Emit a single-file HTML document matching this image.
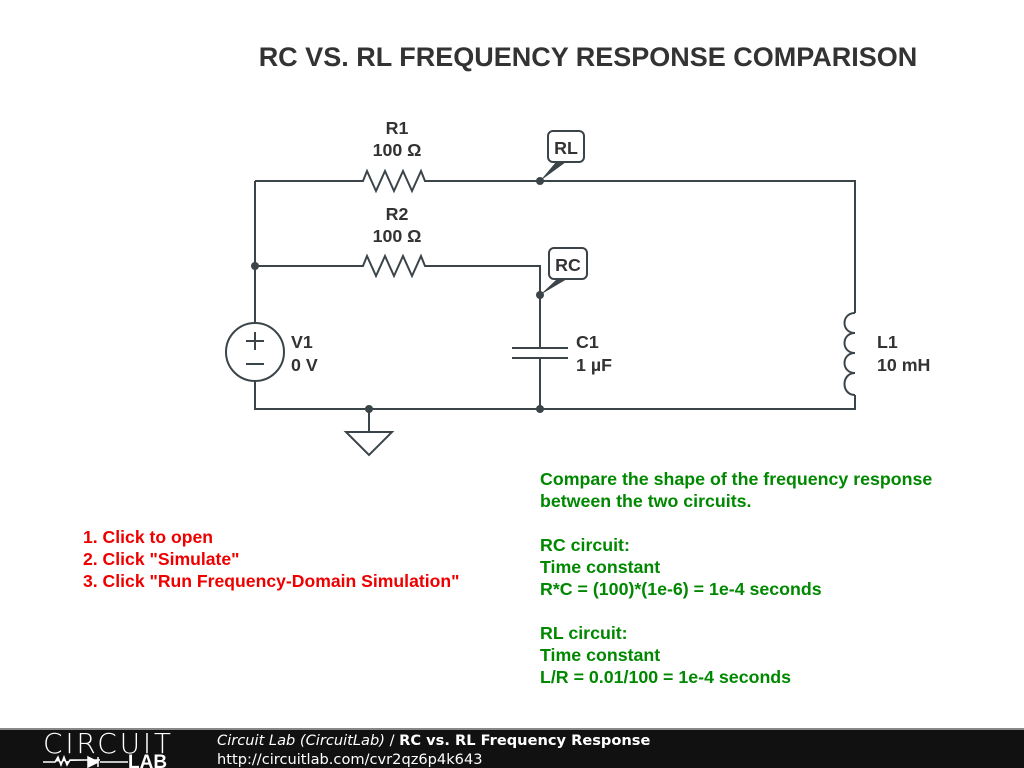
<!DOCTYPE html>
<html><head><style>
body{margin:0;width:1024px;height:768px;background:#fff;overflow:hidden;font-family:"Liberation Sans",sans-serif}
svg{position:absolute;left:0;top:0}
</style></head><body>
<svg width="1024" height="768" viewBox="0 0 1024 768">
<g stroke="#3b4449" stroke-width="2" fill="none">
<path d="M255 181H363l4-10 9 20 9-20 9 20 9-20 9 20 9-20 4 10H855V313"/>
<path d="M855 395V409H255V381M255 323V181"/>
<path d="M255 266H363l4-10 9 20 9-20 9 20 9-20 9 20 9-20 4 10H540V348M540 358V409"/>
<path d="M512 348H568M512 358H568"/>
<circle cx="255" cy="352" r="29"/>
<path d="M246 341H264M255 332V350M246 364H264"/>
<path d="M369 409V432M346 432H392L369 455Z"/>
<path d="M855 313c-14 0-14 20 0 20c-14 0-14 20 0 20c-14 0-14 20 0 20c-14 0-14 22 0 22"/>
<rect x="548" y="131" width="36" height="31" rx="5"/>
<rect x="549" y="248" width="38" height="31" rx="5"/>
</g>
<g fill="#3b4449">
<circle cx="540" cy="181" r="4"/><circle cx="255" cy="266" r="4"/><circle cx="540" cy="295" r="4"/><circle cx="540" cy="409" r="4"/><circle cx="369" cy="409" r="4"/>
<path d="M540 181L556 162H566Z"/><path d="M540 295L557 279H567Z"/>
</g>
<g font-weight="bold" font-size="17.8" fill="#333">
<text x="588" y="66" font-size="27" text-anchor="middle">RC VS. RL FREQUENCY RESPONSE COMPARISON</text>
<text x="397" y="134" text-anchor="middle">R1</text><text x="397" y="156" text-anchor="middle">100 Ω</text>
<text x="397" y="220" text-anchor="middle">R2</text><text x="397" y="242" text-anchor="middle">100 Ω</text>
<text x="566" y="154" text-anchor="middle">RL</text><text x="568" y="271" text-anchor="middle">RC</text>
<text x="291" y="348">V1</text><text x="291" y="371">0 V</text>
<text x="576" y="348">C1</text><text x="576" y="371">1 µF</text>
<text x="877" y="348">L1</text><text x="877" y="371">10 mH</text>
</g>
<g font-weight="bold" font-size="17.6" fill="#e00">
<text x="83" y="543">1. Click to open</text><text x="83" y="565">2. Click "Simulate"</text><text x="83" y="587">3. Click "Run Frequency-Domain Simulation"</text>
</g>
<g font-weight="bold" font-size="17.8" fill="#080">
<text x="540" y="485">Compare the shape of the frequency response</text>
<text x="540" y="507">between the two circuits.</text>
<text x="540" y="551">RC circuit:</text><text x="540" y="573">Time constant</text>
<text x="540" y="595">R*C = (100)*(1e-6) = 1e-4 seconds</text>
<text x="540" y="639">RL circuit:</text><text x="540" y="661">Time constant</text>
<text x="540" y="683">L/R = 0.01/100 = 1e-4 seconds</text>
</g>
<rect x="0" y="729" width="1024" height="39" fill="#111"/>
<rect x="0" y="728" width="1024" height="2" fill="#888"/>
<text x="43" y="753" font-size="28" fill="#fff" font-family="DejaVu Sans" font-weight="200" letter-spacing="1" textLength="129">CIRCUIT</text>
<path d="M43 762H55l3-5 3 8 3-8 3 8 3-5H100M98 757v10M88 757l10 5-10 5Z" stroke="#fff" stroke-width="1.5" fill="#fff"/>
<path d="M100 762H128" stroke="#fff" stroke-width="1.5"/>
<text x="128" y="768" font-size="19" fill="#fff" font-weight="bold">LAB</text>
<text x="217" y="745" font-size="14.6" fill="#fff" font-family="DejaVu Sans"><tspan font-style="italic">Circuit Lab (CircuitLab)</tspan> / <tspan font-weight="bold">RC vs. RL Frequency Response</tspan></text>
<text x="217" y="764" font-size="14.6" fill="#fff" font-family="DejaVu Sans">http://circuitlab.com/cvr2qz6p4k643</text>
</svg>
</body></html>
